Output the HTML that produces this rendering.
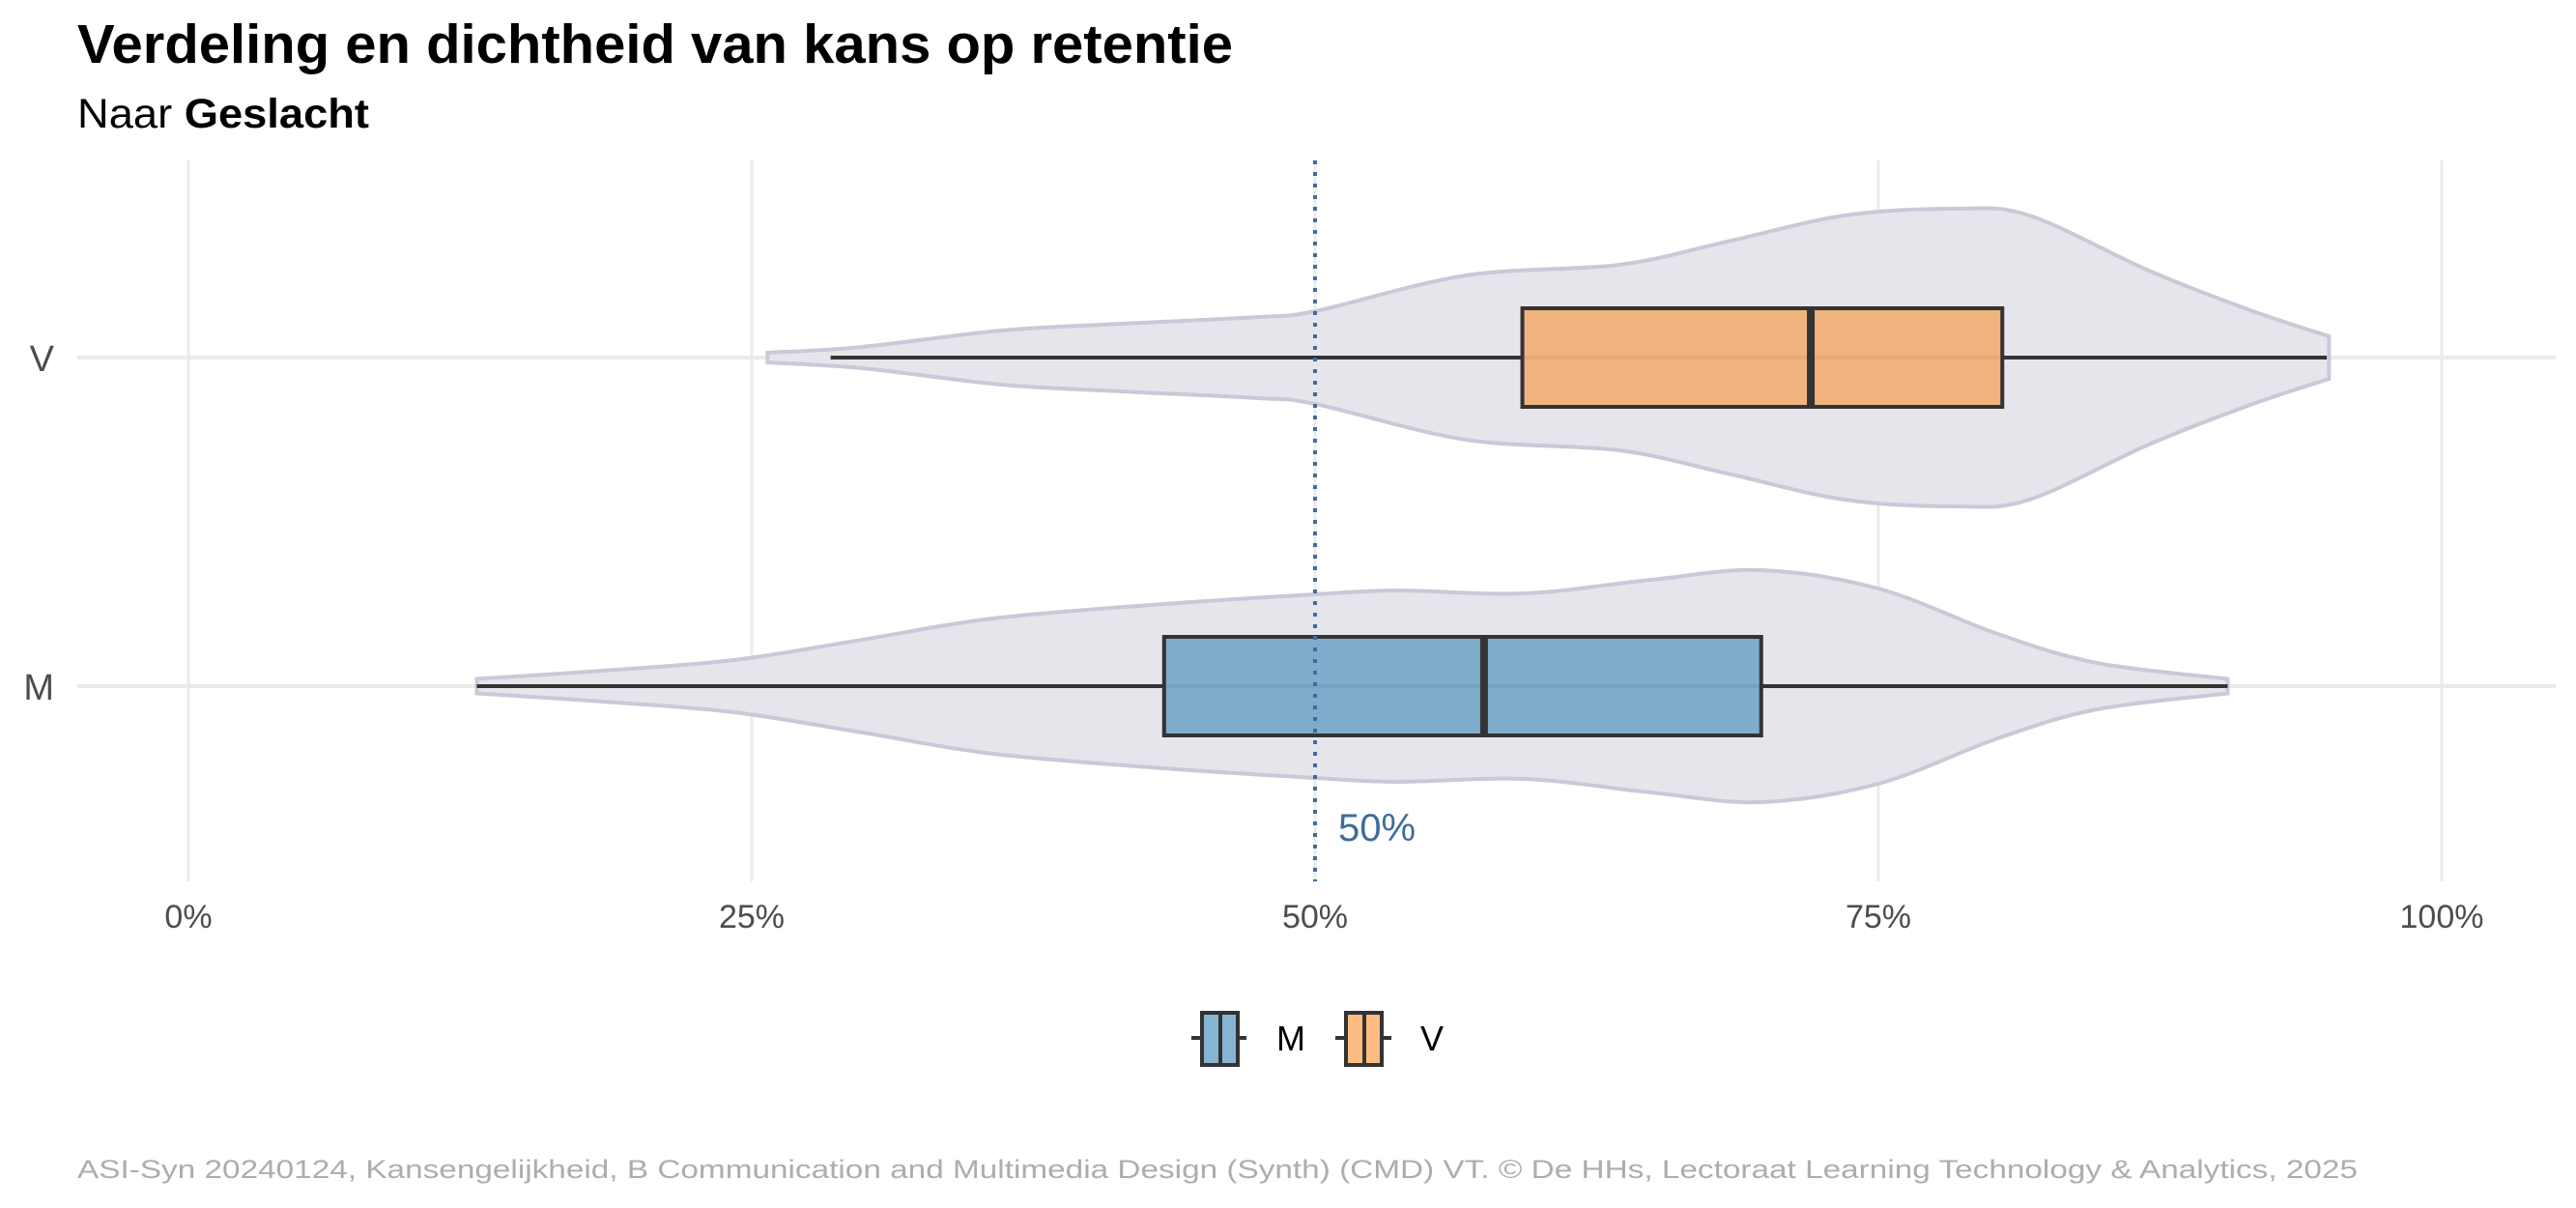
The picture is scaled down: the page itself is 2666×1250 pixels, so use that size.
<!DOCTYPE html>
<html><head><meta charset="utf-8"><style>
html,body{margin:0;padding:0;background:#fff;}
svg{display:block;font-family:"Liberation Sans",Arial,sans-serif;}
</style></head><body>
<svg id="chart" width="2666" height="1250" viewBox="0 0 2666 1250" xmlns="http://www.w3.org/2000/svg">
<text x="80" y="65" font-size="57" font-weight="bold" fill="#000" textLength="1196" lengthAdjust="spacingAndGlyphs">Verdeling en dichtheid van kans op retentie</text>
<text x="80" y="132" font-size="43" fill="#000" textLength="302" lengthAdjust="spacingAndGlyphs">Naar <tspan font-weight="bold">Geslacht</tspan></text>
<g id="grid"></g>
<g id="violins"></g>
<g id="boxes"></g>
<g id="ref"></g>
<g id="axes"></g>
<g id="legend">
  <g>
    <line x1="1233" y1="1074" x2="1290" y2="1074" stroke="#333" stroke-width="4"/>
    <rect x="1244" y="1048" width="37" height="54" fill="#86b4d3" stroke="#333" stroke-width="4"/>
    <line x1="1263" y1="1048" x2="1263" y2="1102" stroke="#333" stroke-width="4"/>
    <text x="1321" y="1087" font-size="36" fill="#000">M</text>
  </g>
  <g>
    <line x1="1382" y1="1074" x2="1440" y2="1074" stroke="#333" stroke-width="4"/>
    <rect x="1393" y="1048" width="37" height="54" fill="#fdbd82" stroke="#333" stroke-width="4"/>
    <line x1="1412" y1="1048" x2="1412" y2="1102" stroke="#333" stroke-width="4"/>
    <text x="1470" y="1087" font-size="36" fill="#000">V</text>
  </g>
</g>
<text x="80" y="1219" font-size="27" fill="#adadad" textLength="2360" lengthAdjust="spacingAndGlyphs">ASI-Syn 20240124, Kansengelijkheid, B Communication and Multimedia Design (Synth) (CMD) VT. © De HHs, Lectoraat Learning Technology &amp; Analytics, 2025</text>
</svg>
<script>
const categories = ["V", "M"];
const xTicks = [0, 25, 50, 75, 100];
const xTickLabels = ["0%", "25%", "50%", "75%", "100%"];
const refValue = 50;
const refLabel = "50%";
// box stats (percent): min, q1, median, q3, max
const boxV = [28.5, 59.2, 72.0, 80.5, 94.9];
const boxM = [12.8, 43.3, 57.5, 69.8, 90.5];
// violin density profiles: x positions (percent) and relative density
const violinVx = [25.7, 29.9, 36.1, 41.4, 47.5, 50.0, 56.7, 63.5, 68.3, 73.5, 78.4, 81.7, 87.0, 91.5, 95.0];
const violinVd = [5, 11, 28, 35, 42, 48, 85, 96, 120, 147, 154, 147, 90, 49, 22];
const violinMx = [12.8, 18.4, 24.2, 29.9, 35.7, 43.3, 50.0, 53.7, 59.3, 64.9, 69.8, 75.0, 80.3, 84.7, 90.5];
const violinMd = [7.5, 16, 27, 48, 70, 85, 95, 99, 96, 110, 120, 101, 54, 24, 7.5];

const NS = "http://www.w3.org/2000/svg";
const x = v => 195 + v / 100 * 2332;
const yBand = c => ({V: 370, M: 710})[c];
const dScale = d => d;
const plotTop = 166, plotBottom = 912;
function mk(tag, attrs, parent) {
  const e = document.createElementNS(NS, tag);
  for (const k in attrs) e.setAttribute(k, attrs[k]);
  parent.appendChild(e);
  return e;
}
const grid = document.getElementById('grid');
xTicks.forEach((t, i) => {
  const l = mk('line', {x1: x(t), x2: x(t), y1: plotTop, y2: plotBottom, stroke: '#ebebeb', 'stroke-width': 3}, grid);
  
  
});
categories.forEach(c => {
  const l = mk('line', {x1: 80, x2: 2645, y1: yBand(c), y2: yBand(c), stroke: '#ebebeb', 'stroke-width': 4}, grid);
  
  
});
const vg = document.getElementById('violins');
function violin(xs, ds, c, name) {
  const yc = yBand(c);
  let up = xs.map((v, i) => [x(v), yc - dScale(ds[i])]);
  let dn = xs.map((v, i) => [x(v), yc + dScale(ds[i])]).reverse();
  function seg(arr) {
    let d = '';
    for (let i = 0; i < arr.length - 1; i++) {
      const p0 = arr[Math.max(i - 1, 0)], p1 = arr[i], p2 = arr[i + 1], p3 = arr[Math.min(i + 2, arr.length - 1)];
      const c1 = [p1[0] + (p2[0] - p0[0]) / 6, p1[1] + (p2[1] - p0[1]) / 6];
      const c2 = [p2[0] - (p3[0] - p1[0]) / 6, p2[1] - (p3[1] - p1[1]) / 6];
      d += ` C${c1[0]},${c1[1]} ${c2[0]},${c2[1]} ${p2[0]},${p2[1]}`;
    }
    return d;
  }
  const d = `M${up[0][0]},${up[0][1]}` + seg(up) + ` L${dn[0][0]},${dn[0][1]}` + seg(dn) + ' Z';
  const p = mk('path', {d: d, fill: '#e6e5ec', stroke: '#cbc8d8', 'stroke-width': 4}, vg);
  
  
}
violin(violinVx, violinVd, 'V', 'violin-v');
violin(violinMx, violinMd, 'M', 'violin-m');

const bg = document.getElementById('boxes');
function box(s, c, fill, name) {
  const yc = yBand(c), h = 51;
  const g = mk('g', {}, bg);
  
  
  mk('line', {x1: x(s[0]), x2: x(s[4]), y1: yc, y2: yc, stroke: '#333', 'stroke-width': 4}, g);
  mk('rect', {x: x(s[1]), y: yc - h, width: x(s[3]) - x(s[1]), height: 2 * h, fill: fill, 'fill-opacity': 0.95, stroke: '#333', 'stroke-width': 4}, g);
  mk('line', {x1: x(s[2]), x2: x(s[2]), y1: yc - h, y2: yc + h, stroke: '#333', 'stroke-width': 8}, g);
}
box(boxV, 'V', '#f0b078', 'boxplot-v');
box(boxM, 'M', '#7aa9ca', 'boxplot-m');

const rg = document.getElementById('ref');
const rl = mk('line', {x1: x(refValue), x2: x(refValue), y1: plotTop, y2: plotBottom, stroke: '#3f6b9e', 'stroke-width': 4, 'stroke-dasharray': '4 8'}, rg);


const rt = mk('text', {x: x(refValue) + 24, y: 870, 'font-size': 40, fill: '#3f6b9e'}, rg);
rt.textContent = refLabel;



const ax = document.getElementById('axes');
xTicks.forEach((t, i) => {
  const tx = mk('text', {x: x(t), y: 960, 'font-size': 34, fill: '#4d4d4d', 'text-anchor': 'middle'}, ax);
  tx.textContent = xTickLabels[i];
  
  
});
categories.forEach(c => {
  const tx = mk('text', {x: 56, y: yBand(c) + 14, 'font-size': 38, fill: '#4d4d4d', 'text-anchor': 'end'}, ax);
  tx.textContent = c;
  
  
});
</script>
</body></html>
